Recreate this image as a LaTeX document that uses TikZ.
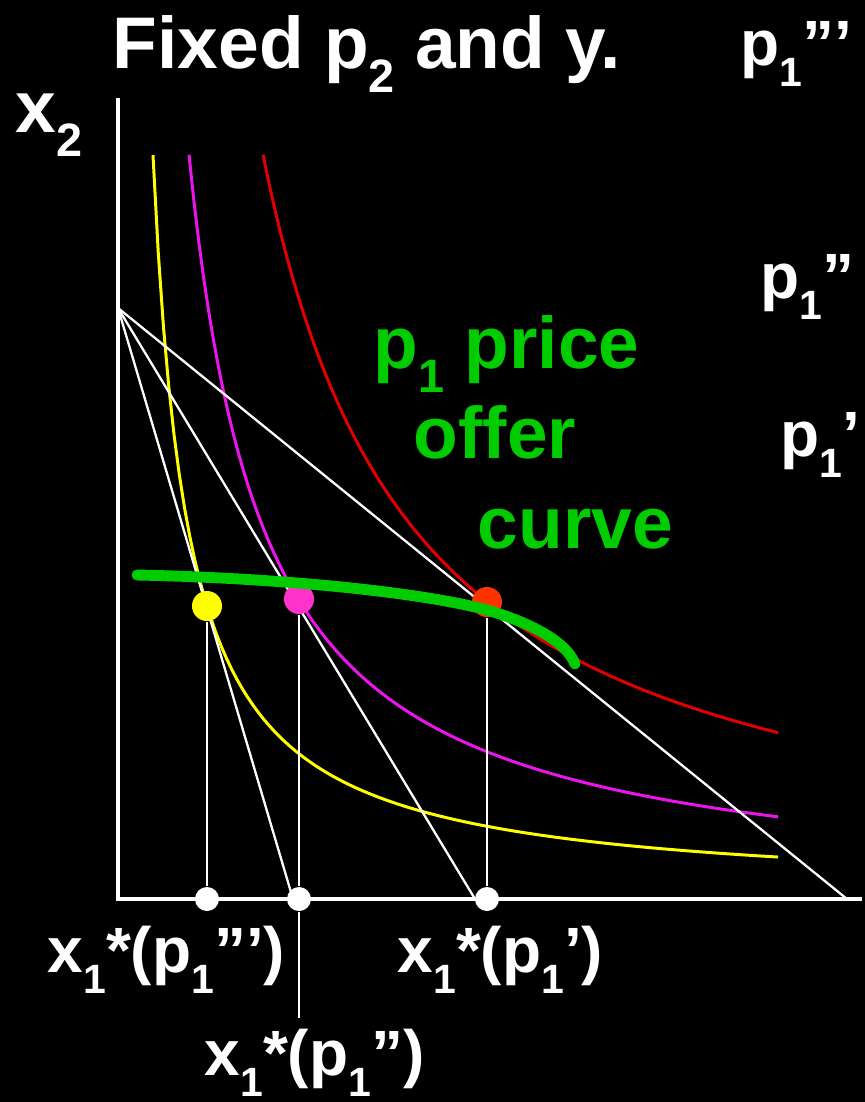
\documentclass[tikz,border=0pt]{standalone}
\usepackage{fontspec}
\setmainfont{Liberation Sans}
\definecolor{cgreen}{RGB}{0,204,0}
\definecolor{cyellow}{RGB}{255,255,0}
\definecolor{cmagenta}{RGB}{235,20,235}
\definecolor{cpink}{RGB}{255,51,204}
\definecolor{cred}{RGB}{225,0,0}
\definecolor{cdot}{RGB}{255,51,0}
\newcommand{\sub}[1]{\raisebox{-0.33em}{\scalebox{0.64}{#1}}}

\begin{document}
\begin{tikzpicture}[x=0.01cm,y=-0.01cm,
  lbl/.style={text=white,inner sep=0pt,anchor=base west,font=\fontsize{18.2}{22}\selectfont\bfseries},
  head/.style={lbl,font=\fontsize{20.8}{25}\selectfont\bfseries},
  poc/.style={lbl,text=cgreen,font=\fontsize{20.8}{25}\selectfont\bfseries},
  icurve/.style={line width=0.85pt},
  budget/.style={white,line width=0.65pt},
  drop/.style={white,line width=0.65pt},
  axis/.style={white,line width=1.3pt},
  dot/.style={circle,inner sep=0pt,minimum size=0.3cm},
  axisdot/.style={circle,fill=white,inner sep=0pt,minimum size=0.24cm}]
  \fill[black] (0,0) rectangle (865,1102);
  \useasboundingbox (0,0) rectangle (865,1102);
  \coordinate (O) at (118,899);
  \coordinate (top) at (118,98);
  \coordinate (right) at (862,899);
  \coordinate (B) at (118,308);
  \coordinate (endA) at (293,899);
  \coordinate (endB) at (475,899);
  \coordinate (endC) at (847,899);
  \coordinate (tail) at (299,1018);
  \draw[icurve,cyellow] plot[domain=153:778,samples=120] (\x,{896-257.07/((\x-118.3)/100)});
  \draw[icurve,cmagenta] plot[domain=189:778,samples=120] (\x,{900-551.5/((\x-115)/100)});
  \draw[icurve,cred] plot[domain=263:778,samples=120] (\x,{901-1119.48/((\x-113)/100)});
  \draw[budget] (B) -- (endA);
  \draw[budget] (B) -- (endB);
  \draw[budget] (B) -- (endC);
  \draw[axis] (top) -- (O) -- (right);
  \node[dot,fill=cyellow] (eA) at (207,606) {};
  \node[dot,fill=cpink] (eB) at (299,599) {};
  \node[dot,fill=cdot] (eC) at (487,602) {};
  \node[axisdot] (qA) at (207,899) {};
  \node[axisdot] (qB) at (299,899) {};
  \node[axisdot] (qC) at (487,899) {};
  \draw[drop] (eA) -- (qA);
  \draw[drop] (eB) -- (qB) -- (tail);
  \draw[drop] (eC) -- (qC);
  \draw[cgreen,line width=3.1pt,line cap=round] (137,575) .. controls (280,578) and (420,592) .. (487,610) .. controls (525,621) and (566,640) .. (575,664);
  \node[head] (title) at (112,68) {Fixed p\sub{2} and y.};
  \node[lbl] (ptri) at (740,65) {p\sub{1}”’};
  \node[lbl] (pdbl) at (760,298) {p\sub{1}”};
  \node[lbl] (psgl) at (780,456) {p\sub{1}’};
  \node[head] (xtwo) at (15,132) {x\sub{2}};
  \node[poc] (pocA) at (373,368) {p\sub{1} price};
  \node[poc] (pocB) at (413,458) {offer};
  \node[poc] (pocC) at (477,548) {curve};
  \node[lbl] (xA) at (47,972) {x\sub{1}*(p\sub{1}”’)};
  \node[lbl] (xC) at (397,972) {x\sub{1}*(p\sub{1}’)};
  \node[lbl] (xB) at (204,1075) {x\sub{1}*(p\sub{1}”)};
\end{tikzpicture}
\end{document}
